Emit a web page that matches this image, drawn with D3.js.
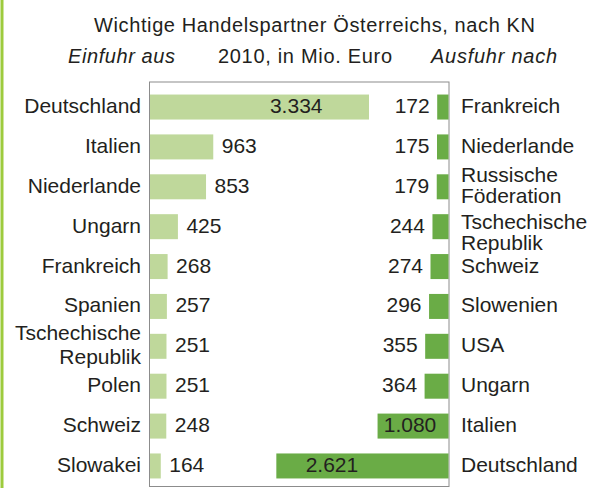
<!DOCTYPE html>
<html>
<head>
<meta charset="utf-8">
<script src="https://cdn.jsdelivr.net/npm/d3@7"></script>
<style>
  body { margin: 0; background: #fff; }
  svg text { font-family: "Liberation Sans", Arial, sans-serif; fill: #231f20; }
</style>
</head>
<body>
<svg id="chart" width="600" height="488"></svg>
<script>
// Einfuhr aus (imports from), Mio. Euro
var importCountries = ["Deutschland", "Italien", "Niederlande", "Ungarn", "Frankreich", "Spanien", "Tschechische\nRepublik", "Polen", "Schweiz", "Slowakei"];
var importValues = [3334, 963, 853, 425, 268, 257, 251, 251, 248, 164];
var importLabels = ["3.334", "963", "853", "425", "268", "257", "251", "251", "248", "164"];

// Ausfuhr nach (exports to), Mio. Euro
var exportCountries = ["Frankreich", "Niederlande", "Russische\nFöderation", "Tschechische\nRepublik", "Schweiz", "Slowenien", "USA", "Ungarn", "Italien", "Deutschland"];
var exportValues = [172, 175, 179, 244, 274, 296, 355, 364, 1080, 2621];
var exportLabels = ["172", "175", "179", "244", "274", "296", "355", "364", "1.080", "2.621"];

var svg = d3.select("#chart");
var boxLeft = 149.5, boxRight = 449, boxTop = 82, boxBottom = 486.5;
var fontSize = 21;

// side rule
svg.append("rect").attr("x", 0.5).attr("y", 0).attr("width", 3).attr("height", 488).attr("fill", "#9dcb3d");

// titles
svg.append("text").attr("x", 94).attr("y", 32).attr("font-size", 20).attr("textLength", 441)
    .text("Wichtige Handelspartner Österreichs, nach KN");
svg.append("text").attr("x", 218).attr("y", 63).attr("font-size", 20).attr("textLength", 174)
    .text("2010, in Mio. Euro");
svg.append("text").attr("x", 68).attr("y", 63).attr("font-size", 20).attr("font-style", "italic").attr("textLength", 107)
    .text("Einfuhr aus");
svg.append("text").attr("x", 431).attr("y", 63).attr("font-size", 20).attr("font-style", "italic").attr("textLength", 126)
    .text("Ausfuhr nach");

// frame
svg.append("rect").attr("x", boxLeft).attr("y", boxTop)
    .attr("width", boxRight - boxLeft).attr("height", boxBottom - boxTop)
    .attr("fill", "none").attr("stroke", "#8c8c8c").attr("stroke-width", 1);

var y = d3.scaleBand()
    .domain(d3.range(importValues.length))
    .range([86.5, 486.5])
    .paddingInner(0.37).paddingOuter(0.2);

var x = d3.scaleLinear().domain([0, 3334]).range([0, 219]);

var barH = 25;
function rowY(i) { return y(i) + y.bandwidth() / 2; }

// import bars (left, light green)
svg.append("g").selectAll("rect").data(importValues).enter().append("rect")
    .attr("x", boxLeft + 0.5)
    .attr("y", function (d, i) { return rowY(i) - barH / 2; })
    .attr("width", function (d) { return x(d); })
    .attr("height", barH)
    .attr("fill", "#bfd89b");

// export bars (right, dark green)
svg.append("g").selectAll("rect").data(exportValues).enter().append("rect")
    .attr("x", function (d) { return boxRight - 0.5 - x(d); })
    .attr("y", function (d, i) { return rowY(i) - barH / 2; })
    .attr("width", function (d) { return x(d); })
    .attr("height", barH)
    .attr("fill", "#6aac46");

// value labels
svg.append("g").selectAll("text").data(importValues).enter().append("text")
    .attr("font-size", fontSize)
    .attr("y", function (d, i) { return rowY(i) + 6; })
    .attr("x", function (d) {
        if (d > 1000) return boxLeft + x(d) * 0.67;
        return boxLeft + x(d) + 9;
    })
    .attr("text-anchor", function (d) { return d > 1000 ? "middle" : "start"; })
    .text(function (d, i) { return importLabels[i]; });

svg.append("g").selectAll("text").data(exportValues).enter().append("text")
    .attr("font-size", fontSize)
    .attr("y", function (d, i) { return rowY(i) + 6; })
    .attr("x", function (d) {
        if (d > 2000) return boxRight - x(d) * 0.68;
        if (d > 1000) return boxRight - 39;
        return boxRight - x(d) - 8;
    })
    .attr("text-anchor", function (d) { return d > 1000 ? "middle" : "end"; })
    .text(function (d, i) { return exportLabels[i]; });

// category labels; a two-line label right under another one is pushed down a bit
function addLabels(names, xPos, anchor, lineGap, firstShift) {
    names.forEach(function (name, i) {
        var lines = name.split("\n");
        var t = svg.append("text")
            .attr("font-size", fontSize)
            .attr("x", xPos)
            .attr("text-anchor", anchor);
        var first = rowY(i) + 6;
        if (lines.length > 1) {
            first = rowY(i) + firstShift;
            if (i > 0 && names[i - 1].indexOf("\n") >= 0) first += 7;
        }
        lines.forEach(function (l, k) {
            t.append("tspan").attr("x", xPos).attr("y", first + k * lineGap).text(l);
        });
    });
}
addLabels(importCountries, 141, "end", 24, -6);
addLabels(exportCountries, 461, "start", 21, -5);
</script>
</body>
</html>
